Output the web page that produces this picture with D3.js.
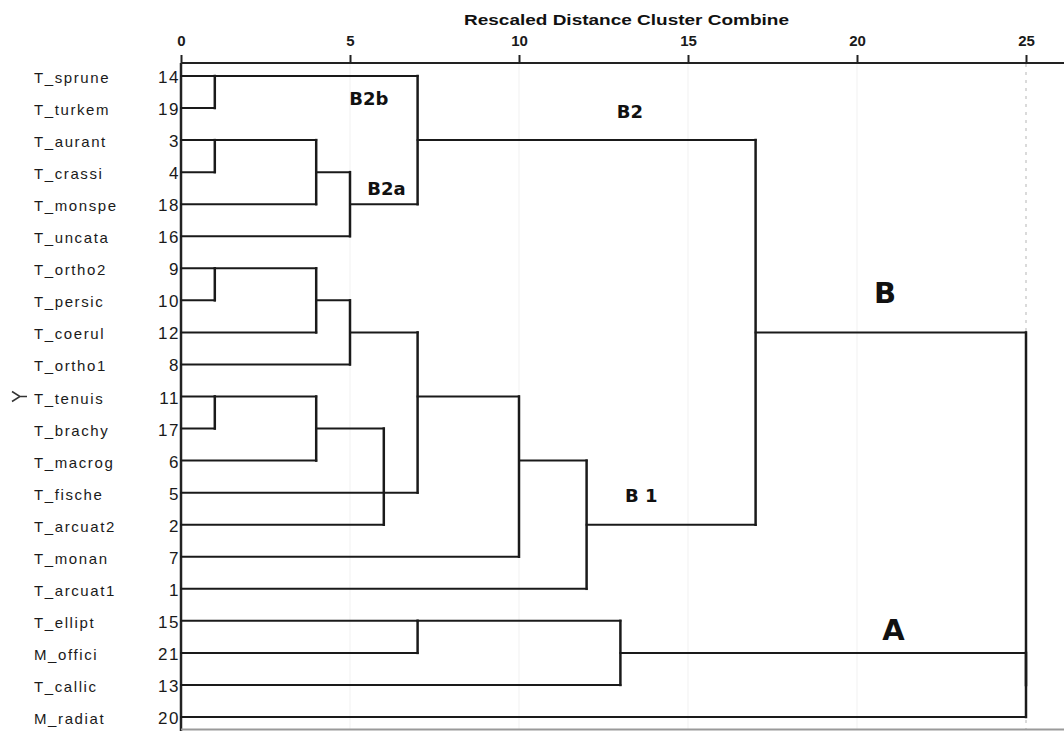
<!DOCTYPE html>
<html>
<head>
<meta charset="utf-8">
<script src="https://cdn.jsdelivr.net/npm/d3@7"></script>
<style>
body { margin: 0; background: #fff; }
text { font-family: "Liberation Sans", Arial, sans-serif; }
</style>
</head>
<body>
<script>
var width = 1064,
  height = 731;

// feuilles, de haut en bas
var noms = ["T_sprune", "T_turkem", "T_aurant", "T_crassi", "T_monspe", "T_uncata",
  "T_ortho2", "T_persic", "T_coerul", "T_ortho1", "T_tenuis", "T_brachy", "T_macrog",
  "T_fische", "T_arcuat2", "T_monan", "T_arcuat1", "T_ellipt", "M_offici", "T_callic", "M_radiat"];
var numeros = [14, 19, 3, 4, 18, 16, 9, 10, 12, 8, 11, 17, 6, 5, 2, 7, 1, 15, 21, 13, 20];
var graduations = [0, 5, 10, 15, 20, 25];

// fusions : [a, b, distance] ; a,b < 21 = rang d'une feuille, >= 21 = fusion (21 + indice)
var fusions = [
  [0, 1, 1], [2, 3, 1], [22, 4, 4], [23, 5, 5], [21, 24, 7],
  [6, 7, 1], [26, 8, 4], [27, 9, 5], [10, 11, 1], [29, 12, 4], [30, 14, 6],
  [28, 13, 7], [32, 15, 10], [33, 16, 12], [25, 34, 17],
  [17, 18, 7], [36, 19, 13], [37, 20, 25], [35, 38, 25]
];

// annotations des groupes (distance, rang)
var groupes = ["B2b", "B2a", "B2", "B 1", "B", "A"];
var groupesDist = [5.56, 6.08, 13.28, 13.62, 20.83, 21.08];
var groupesRang = [0.905, 3.71, 1.31, 13.29, 7.08, 17.6];
var groupesGrand = [false, false, false, false, true, true];

var svg = d3
  .select("body")
  .append("svg")
  .attr("width", width)
  .attr("height", height)
  .style("background", "#fff");

var x = d3.scaleLinear().domain([0, 25]).range([181, 1026]);
var y = d3.scaleLinear().domain([0, noms.length - 1]).range([76, 717]);

/*
* grille legere
*/
svg.append("g")
  .selectAll("line")
  .data(graduations.slice(1))
  .enter()
  .append("line")
  .attr("x1", function (d) { return x(d); })
  .attr("x2", function (d) { return x(d); })
  .attr("y1", 64)
  .attr("y2", 729)
  .attr("stroke", function (d) { return d == 25 ? "#b5b5b5" : "#f1f1f1"; })
  .attr("stroke-dasharray", function (d) { return d == 25 ? "3,5" : null; });

/*
* axe du haut
*/
var axe = svg.append("g")
  .attr("transform", "translate(0,63)")
  .call(d3.axisTop(x).tickValues(graduations).tickSize(8).tickSizeOuter(0));
axe.select(".domain").remove();
axe.selectAll(".tick line").attr("stroke", "#222").attr("stroke-width", 2);
axe.selectAll(".tick text")
  .style("font-size", "15px")
  .style("font-weight", "bold")
  .style("font-family", "Liberation Sans, Arial, sans-serif")
  .attr("fill", "#1a1a1a")
  .attr("y", -17);

svg.append("line")
  .attr("x1", 181).attr("x2", 1064)
  .attr("y1", 63).attr("y2", 63)
  .attr("stroke", "#222").attr("stroke-width", 2);
svg.append("line")
  .attr("x1", 181).attr("x2", 181)
  .attr("y1", 63).attr("y2", 731)
  .attr("stroke", "#222").attr("stroke-width", 2.5);
svg.append("line")
  .attr("x1", 181).attr("x2", 1064)
  .attr("y1", 729.5).attr("y2", 729.5)
  .attr("stroke", "#9a9a9a").attr("stroke-width", 2);

svg.append("text")
  .attr("x", 464)
  .attr("y", 25)
  .attr("textLength", 325)
  .attr("lengthAdjust", "spacingAndGlyphs")
  .style("font-size", "15px")
  .style("font-weight", "bold")
  .attr("fill", "#111")
  .text("Rescaled Distance Cluster Combine");

/*
* segments du dendrogramme
*/
var noeuds = numeros.map(function (d, i) { return { rang: i, dist: 0 }; });
var segments = [];
fusions.forEach(function (f) {
  var a = noeuds[f[0]], b = noeuds[f[1]];
  segments.push({ x1: a.dist, x2: f[2], y1: a.rang, y2: a.rang, v: false });
  segments.push({ x1: b.dist, x2: f[2], y1: b.rang, y2: b.rang, v: false });
  segments.push({ x1: f[2], x2: f[2], y1: a.rang, y2: b.rang, v: true });
  noeuds.push({ rang: Math.floor((a.rang + b.rang) / 2), dist: f[2] });
});

svg.append("g")
  .selectAll("line")
  .data(segments)
  .enter()
  .append("line")
  .attr("x1", function (d) { return x(d.x1); })
  .attr("x2", function (d) { return x(d.x2); })
  .attr("y1", function (d) { return y(d.y1); })
  .attr("y2", function (d) { return y(d.y2); })
  .attr("stroke", "#1a1a1a")
  .attr("stroke-width", function (d) { return d.v ? 2.5 : 2; })
  .attr("stroke-linecap", "square");

/*
* libelles des feuilles
*/
svg.append("g")
  .selectAll("text")
  .data(noms)
  .enter()
  .append("text")
  .attr("x", 34)
  .attr("y", function (d, i) { return y(i) + 7; })
  .attr("letter-spacing", 1.6)
  .style("font-size", "15px")
  .attr("fill", "#1a1a1a")
  .text(function (d) { return d; });

svg.append("g")
  .selectAll("text")
  .data(numeros)
  .enter()
  .append("text")
  .attr("x", 180)
  .attr("y", function (d, i) { return y(i) + 7; })
  .attr("text-anchor", "end")
  .attr("letter-spacing", 1.5)
  .style("font-size", "17px")
  .attr("fill", "#1a1a1a")
  .text(function (d) { return d; });

// petit repere devant T_tenuis
svg.append("path")
  .attr("d", "M12," + (y(10) - 5) + " L20," + y(10) + " L12," + (y(10) + 5) + " M20," + y(10) + " H27")
  .attr("fill", "none")
  .attr("stroke", "#333")
  .attr("stroke-width", 1.5);

/*
* noms des groupes
*/
svg.append("g")
  .selectAll("text")
  .data(groupes)
  .enter()
  .append("text")
  .attr("x", function (d, i) { return x(groupesDist[i]); })
  .attr("y", function (d, i) { return y(groupesRang[i]); })
  .attr("text-anchor", "middle")
  .style("font-family", "DejaVu Sans, Verdana, sans-serif")
  .style("font-weight", "bold")
  .style("font-size", function (d, i) { return groupesGrand[i] ? "29px" : "18px"; })
  .attr("fill", "#111")
  .text(function (d) { return d; });
</script>
</body>
</html>
